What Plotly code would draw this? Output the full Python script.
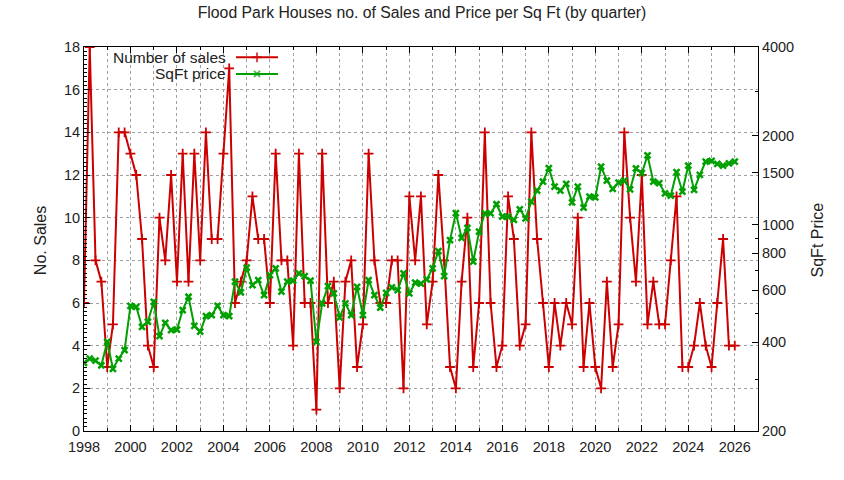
import pandas as pd
import plotly.graph_objects as go

# quarterly data, 1998 Q1 .. 2026 Q1
quarters = pd.period_range("1998Q1", "2026Q1", freq="Q").to_timestamp()

sales = [6, 18, 8, 7, 3, 5, 14, 14, 13, 12, 9, 4, 3, 10, 8, 12, 7, 13, 7, 13,
         8, 14, 9, 9, 13, 17, 6, 7, 8, 11, 9, 9, 6,
         13, 8, 8, 4, 13, 6, 6, 1, 13, 6, 7, 2, 7, 8, 3, 5, 13, 8, 6, 6, 8, 8,
         2, 11, 8, 11, 5, 7, 12, 8, 3, 2,
         7, 10, 3, 6, 14, 6, 3, 4, 11, 9, 4, 5, 14, 9, 6, 3, 6, 4, 6, 5, 10,
         3, 6, 3, 2, 7, 3, 5, 14, 10, 7,
         12, 5, 7, 5, 5, 8, 11, 3, 3, 4, 6, 4, 3, 6, 9, 4, 4]

sqft_price = [340, 352, 346, 334, 401, 325, 352, 376, 531, 527, 451, 469, 548,
              419, 465, 439, 441, 514, 570, 454, 434, 490, 494, 531, 494, 490,
              641, 590, 715, 624, 649, 577, 675,
              711, 593, 641, 646, 684, 670, 646, 401, 541, 619, 585, 485, 541,
              494, 616, 494, 649, 577, 524, 588, 613, 600, 684, 585, 636, 632,
              653, 711, 814, 670, 887, 1095,
              903, 975, 750, 947, 1093, 1093, 1173, 1065, 1065, 1038, 1128,
              1051, 1198, 1305, 1400, 1554, 1346, 1305, 1375, 1191, 1346, 1143,
              1245, 1237, 1574, 1411, 1322, 1389, 1410, 1317, 1552,
              1494, 1716, 1400, 1382, 1278, 1255, 1506, 1295, 1586, 1312, 1475,
              1637, 1645, 1607, 1586, 1615, 1637]

price_ticks = [200, 400, 600, 800, 1000, 1500, 2000, 4000]
price_minor = [300, 500, 700, 900, 2830]

RED = "#cc0000"
GREEN = "#00a000"
TXT = "#222222"
FONT = "Liberation Sans, Arial, sans-serif"

fig = go.Figure()

fig.add_trace(go.Scatter(
    x=quarters, y=sales, mode="lines+markers", name="Number of sales",
    line=dict(color=RED, width=2),
    marker=dict(symbol="cross-thin", size=7, line=dict(color=RED, width=1.8)),
    yaxis="y"))

fig.add_trace(go.Scatter(
    x=quarters, y=sqft_price, mode="lines+markers", name="SqFt price",
    line=dict(color=GREEN, width=2),
    marker=dict(symbol="x-thin", size=6, line=dict(color=GREEN, width=2.5)),
    yaxis="y2"))

# gnuplot style key: text first, sample after (drawn on a hidden 0..1 axis)
key_rows = [("Number of sales", RED, "cross-thin", 7, 0.973),
            ("SqFt price", GREEN, "x-thin", 6, 0.930)]
for label, col, sym, sz, ky in key_rows:
    fig.add_trace(go.Scatter(
        x=[0.2255, 0.2567, 0.2878], y=[ky, ky, ky], mode="lines+markers",
        line=dict(color=col, width=2),
        marker=dict(symbol=sym, size=[0, sz, 0], line=dict(color=col, width=2)),
        xaxis="x3", yaxis="y3", hoverinfo="skip"))
    fig.add_annotation(x=0.2136, y=ky, xref="paper", yref="paper", text=label,
                       showarrow=False, xanchor="right", yanchor="middle",
                       font=dict(size=15.5, color=TXT))

grid = dict(gridcolor="#a0a0a0", griddash="dot", gridwidth=1)

fig.update_layout(
    width=844, height=480,
    margin=dict(l=84, r=86, t=47, b=49),
    paper_bgcolor="white", plot_bgcolor="white",
    font=dict(family=FONT, size=14, color="black"),
    showlegend=False,
    title=dict(text="Flood Park Houses no. of Sales and Price per Sq Ft (by quarter)",
               x=0.5, xref="container", y=0.973, yref="container",
               yanchor="middle", font=dict(size=15.8, color=TXT)),
    xaxis=dict(type="date", range=["1998-01-01", "2027-01-01"],
               tick0="1998-01-01", dtick="M24", tickformat="%Y",
               showgrid=True, **grid,
               ticks="inside", ticklen=6, tickcolor="black",
               ticklabelstandoff=3,
               showline=True, linecolor="black", linewidth=1, mirror="ticks",
               minor=dict(dtick="M12", ticks="inside", ticklen=3,
                          showgrid=True, **grid),
               zeroline=False, tickfont=dict(size=14.5, color=TXT)),
    yaxis=dict(range=[0, 18], dtick=2, showgrid=True, **grid,
               ticks="inside", ticklen=6, tickcolor="black",
               showline=True, linecolor="black", linewidth=1,
               minor=dict(dtick=0.2, ticks="inside", ticklen=3),
               zeroline=False, tickfont=dict(size=14.5, color=TXT)),
    yaxis2=dict(type="log", overlaying="y", side="right",
                range=[2.30103, 3.60206],
                tickmode="array", tickvals=price_ticks,
                ticktext=[str(v) for v in price_ticks],
                ticks="inside", ticklen=6, tickcolor="black",
                showline=True, linecolor="black", linewidth=1,
                minor=dict(tickmode="array", tickvals=price_minor,
                           ticks="inside", ticklen=3),
                showgrid=False, zeroline=False,
                tickfont=dict(size=14.5, color=TXT)),
    xaxis3=dict(overlaying="x", range=[0, 1], visible=False),
    yaxis3=dict(overlaying="y", range=[0, 1], visible=False),
)

fig.add_annotation(x=-0.0653, y=0.497, xref="paper", yref="paper",
                   text="No. Sales", textangle=-90, showarrow=False,
                   xanchor="center", yanchor="middle",
                   font=dict(size=16, color=TXT))
fig.add_annotation(x=1.088, y=0.497, xref="paper", yref="paper",
                   text="SqFt Price", textangle=-90, showarrow=False,
                   xanchor="center", yanchor="middle",
                   font=dict(size=16, color=TXT))

# the page's default 8px body margin would shift the whole chart
fig.write_html("out.html", config={"displayModeBar": False},
               post_script="document.body.style.margin='0';")
